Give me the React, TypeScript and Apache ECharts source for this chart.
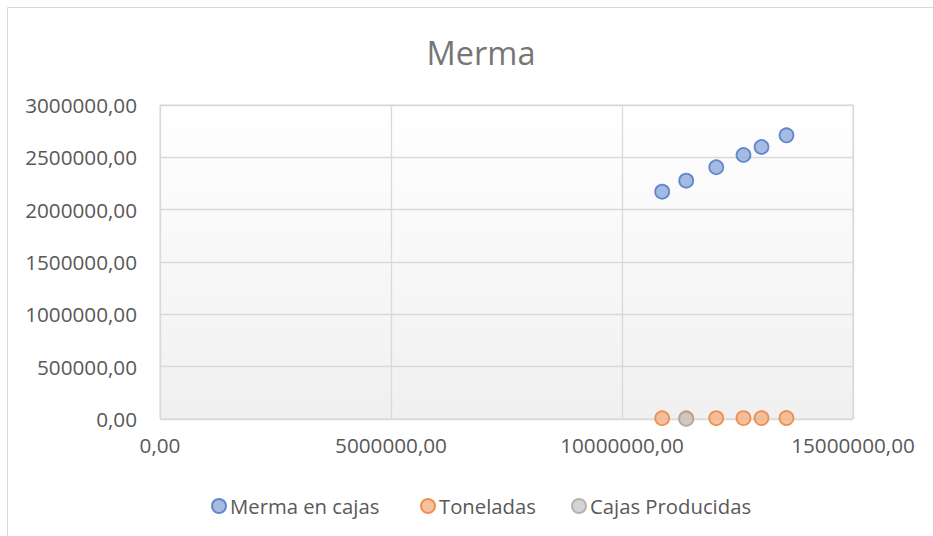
import React, { useEffect, useRef } from "react";
import * as echarts from "echarts";

const titleText = "Merma";
const seriesNames = ["Merma en cajas", "Toneladas", "Cajas Producidas"];
const xValues = [10870000, 11390000, 12040000, 12630000, 13020000, 13560000];
const mermaValues = [2172000, 2277000, 2405000, 2522000, 2599000, 2710000];
const toneladasValues = [7100, 7400, 7900, 8300, 8500, 8900];
const cajasX = [11390000];
const cajasValues = [0];

const xTicks = { min: 0, max: 15000000, interval: 5000000 };
const yTicks = { min: 0, max: 3000000, interval: 500000 };

const FONT = "Open Sans";
const TXT = "#595959";
const GRID = "#d9d9d9";

const fmt = (v: number) => v.toFixed(2).replace(".", ",");

export default function App() {
  const ref = useRef<HTMLDivElement>(null);
  useEffect(() => {
    const chart = echarts.init(ref.current!, undefined, { renderer: "svg" });
    const pair = (xs: number[], ys: number[]) => xs.map((x, i) => [x, ys[i]]);
    const styles = [
      { color: "#8eaadb", borderColor: "#4472c4" },
      { color: "#f4b183", borderColor: "#ed7d31" },
      { color: "#c9c9c9", borderColor: "#a5a5a5" },
    ];
    const legendBase = {
      orient: "horizontal" as const,
      top: 491,
      icon: "circle",
      itemWidth: 14,
      itemHeight: 14,
      itemGap: 0,
      textStyle: { color: TXT, fontFamily: FONT, fontSize: 20.3, padding: [0, 0, 0, -1] },
    };
    chart.setOption({
      animation: false,
      backgroundColor: "#ffffff",
      title: {
        text: titleText,
        left: 476,
        textAlign: "center",
        top: 31,
        textStyle: { color: "#767676", fontFamily: FONT, fontSize: 32.5, fontWeight: "normal" },
      },
      legend: [
        { ...legendBase, left: 206, data: [seriesNames[0]] },
        { ...legendBase, left: 415, data: [seriesNames[1]] },
        { ...legendBase, left: 566, data: [seriesNames[2]] },
      ],
      grid: {
        left: 160,
        right: 80,
        top: 105,
        bottom: 117,
        show: true,
        borderColor: GRID,
        borderWidth: 1,
        backgroundColor: new echarts.graphic.LinearGradient(0, 0, 0, 1, [
          { offset: 0, color: "#ffffff" },
          { offset: 1, color: "#f0f0f0" },
        ]),
      },
      xAxis: {
        type: "value",
        min: xTicks.min,
        max: xTicks.max,
        interval: xTicks.interval,
        axisLine: { show: false },
        axisTick: { show: false },
        splitLine: { show: true, lineStyle: { color: GRID, width: 1.3 } },
        axisLabel: {
          color: TXT,
          fontFamily: FONT,
          fontSize: 20.7,
          margin: 15,
          formatter: (v: number) => fmt(v),
        },
      },
      yAxis: {
        type: "value",
        min: yTicks.min,
        max: yTicks.max,
        interval: yTicks.interval,
        axisLine: { show: false },
        axisTick: { show: false },
        splitLine: { show: true, lineStyle: { color: GRID, width: 1.3 } },
        axisLabel: {
          color: TXT,
          fontFamily: FONT,
          fontSize: 20.7,
          margin: 23,
          formatter: (v: number) => fmt(v),
        },
      },
      series: [
        {
          name: seriesNames[0],
          type: "scatter",
          symbol: "circle",
          symbolSize: 14,
          data: pair(xValues, mermaValues),
          itemStyle: { ...styles[0], borderWidth: 1.8 },
        },
        {
          name: seriesNames[1],
          type: "scatter",
          symbol: "circle",
          symbolSize: 14,
          data: pair(xValues, toneladasValues),
          itemStyle: { ...styles[1], borderWidth: 1.8 },
        },
        {
          name: seriesNames[2],
          type: "scatter",
          symbol: "circle",
          symbolSize: 14,
          data: pair(cajasX, cajasValues),
          itemStyle: { ...styles[2], borderWidth: 1.8 },
        },
      ],
      graphic: [
        {
          type: "rect",
          silent: true,
          shape: { x: 7.5, y: 7.5, width: 1000, height: 1000 },
          style: { fill: "none", stroke: GRID, lineWidth: 1 },
        },
      ],
    });
    return () => chart.dispose();
  }, []);
  return (
    <div
      ref={ref}
      style={{ position: "fixed", left: 0, top: 0, width: 933, height: 536 }}
    />
  );
}
